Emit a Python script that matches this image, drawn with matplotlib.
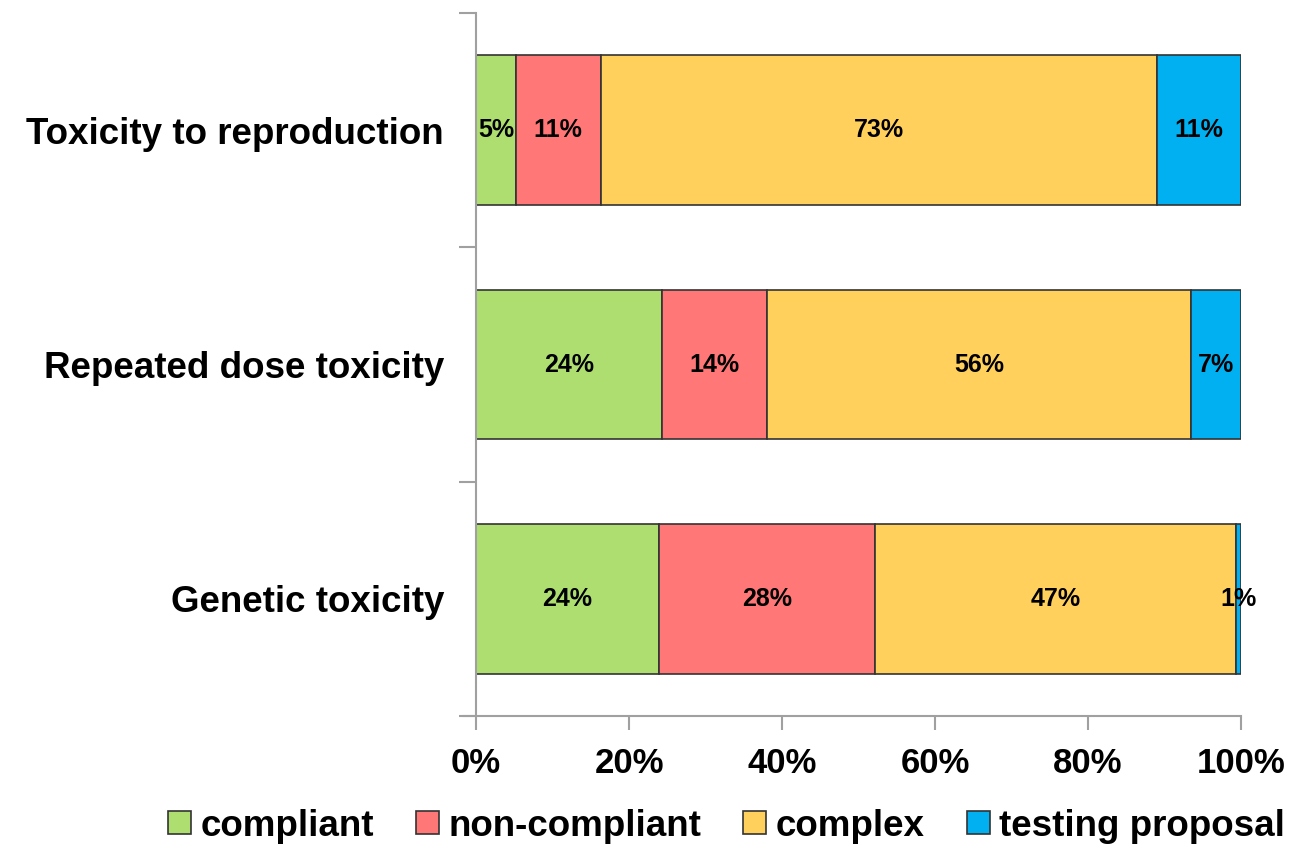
import matplotlib
matplotlib.use("Agg")
import matplotlib.pyplot as plt
import numpy as np

categories = ["Genetic toxicity", "Repeated dose toxicity", "Toxicity to reproduction"]
series_names = ["compliant", "non-compliant", "complex", "testing proposal"]
compliant = [23.9, 24.3, 5.2]
non_compliant = [28.3, 13.8, 11.1]
complex_ = [47.1, 55.4, 72.7]
testing_proposal = [0.7, 6.5, 11.0]
labels_compliant = ["24%", "24%", "5%"]
labels_non_compliant = ["28%", "14%", "11%"]
labels_complex = ["47%", "56%", "73%"]
labels_testing = ["1%", "7%", "11%"]
xtick_labels = ["0%", "20%", "40%", "60%", "80%", "100%"]

colors = ["#ADDE6F", "#FF7777", "#FFD15C", "#00B0F0"]

plt.rcParams['font.family'] = ['Liberation Sans', 'DejaVu Sans']
plt.rcParams['font.weight'] = 'bold'

fig = plt.figure(figsize=(12.94, 8.5), dpi=100)
ax = fig.add_axes([476/1294, 1 - 716/850, (1241-476)/1294, (716-13)/850])

y = np.arange(len(categories))
data = [compliant, non_compliant, complex_, testing_proposal]
labels = [labels_compliant, labels_non_compliant, labels_complex, labels_testing]
left = np.zeros(len(categories))
for vals, name, col, labs in zip(data, series_names, colors, labels):
    bars = ax.barh(y, vals, left=left, height=0.64, color=col, edgecolor="#333333",
                   linewidth=1.2, label=name)
    ax.bar_label(bars, labels=labs, label_type='center', fontsize=18, fontweight='bold')
    left += np.array(vals)

ax.set_xlim(0, 100)
ax.set_ylim(-0.5, 2.5)
ax.set_xticks(np.linspace(0, 100, 6))
ax.set_xticklabels(xtick_labels, fontsize=25, fontweight='bold')
ax.set_yticks([-0.5, 0.5, 1.5, 2.5])
ax.set_yticklabels([])
ax.set_yticks(y, minor=True)
ax.set_yticklabels(categories, minor=True, fontsize=26.5, fontweight='bold')
ax.tick_params(axis='y', which='minor', length=0, pad=23)
ax.tick_params(axis='y', which='major', length=12, color='#A0A0A0', width=1.5)
ax.tick_params(axis='x', length=10, color='#A0A0A0', width=1.5, pad=12)

for s in ['top', 'right']:
    ax.spines[s].set_visible(False)
for s in ['left', 'bottom']:
    ax.spines[s].set_color('#A0A0A0')
    ax.spines[s].set_linewidth(1.5)
ax.spines['bottom'].set_bounds(-1.6, 100)

fig.legend(loc='center', bbox_to_anchor=(0.5615, 24/850), ncol=4, frameon=False,
           handlelength=0.62, handleheight=0.62, handletextpad=0.25,
           columnspacing=1.15, prop={'weight': 'bold', 'size': 26.5})

fig.savefig("out.png", dpi=100)
